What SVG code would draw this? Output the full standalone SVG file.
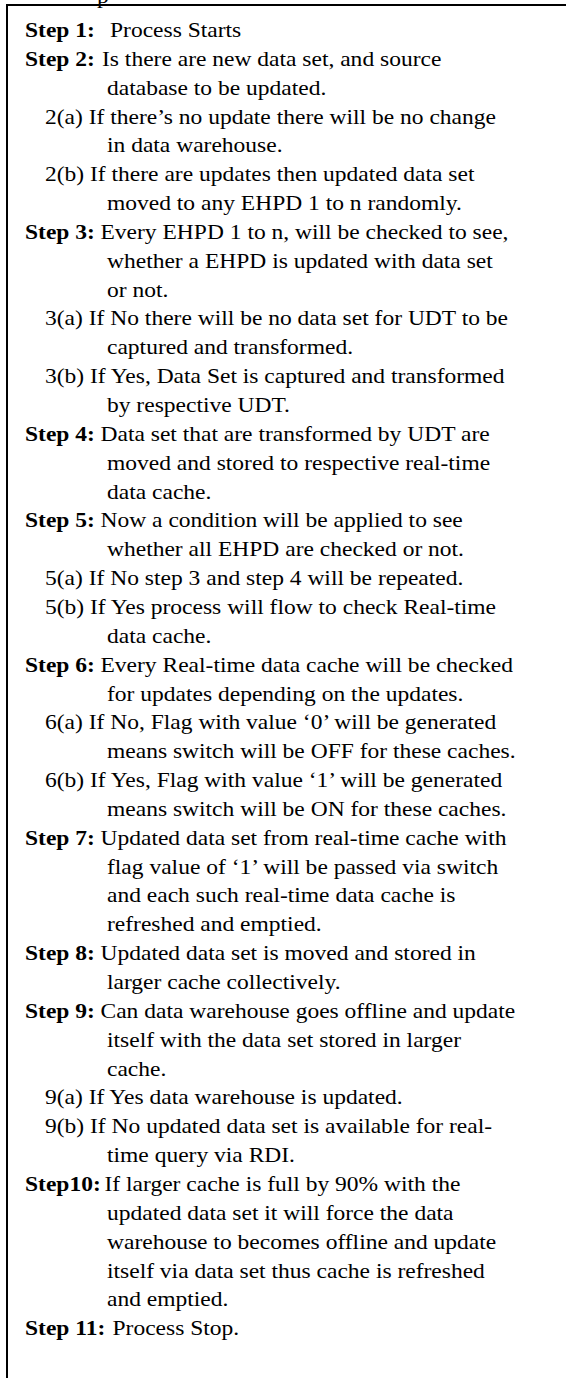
<svg xmlns="http://www.w3.org/2000/svg" width="566" height="1378" viewBox="0 0 566 1378">
<style>
text{font-family:"Liberation Serif","Times New Roman",serif;font-size:21px;fill:#000}
.b{font-weight:bold}
.frame{fill:none;stroke:#000;stroke-width:2}
</style>
<rect width="566" height="1378" fill="#fff"/>
<g id="frame">
<text x="97" y="3" transform="scale(1.12 1)" dx="-10.4">p</text>
<path class="frame" d="M566,5 H7 V1378"/>
</g>
<g id="steps" transform="scale(1.12 1)">
<text y="37"><tspan class="b" x="22.32">Step 1:</tspan><tspan x="98.21">Process Starts</tspan></text>
<text y="65.85"><tspan class="b" x="22.32">Step 2:</tspan><tspan x="91.07">Is there are new data set, and source</tspan></text>
<text x="95.54" y="94.7">database to be updated.</text>
<text x="40.18" y="123.55">2(a) If there’s no update there will be no change</text>
<text x="95.54" y="152.4">in data warehouse.</text>
<text x="40.18" y="181.25">2(b) If there are updates then updated data set</text>
<text x="95.54" y="210.1">moved to any EHPD 1 to n randomly.</text>
<text y="238.95"><tspan class="b" x="22.32">Step 3:</tspan><tspan x="89.73">Every EHPD 1 to n, will be checked to see,</tspan></text>
<text x="95.54" y="267.8">whether a EHPD is updated with data set</text>
<text x="95.54" y="296.65">or not.</text>
<text x="40.18" y="325.5">3(a) If No there will be no data set for UDT to be</text>
<text x="95.54" y="354.35">captured and transformed.</text>
<text x="40.18" y="383.2">3(b) If Yes, Data Set is captured and transformed</text>
<text x="95.54" y="412.05">by respective UDT.</text>
<text y="440.9"><tspan class="b" x="22.32">Step 4:</tspan><tspan x="89.73">Data set that are transformed by UDT are</tspan></text>
<text x="95.54" y="469.75">moved and stored to respective real-time</text>
<text x="95.54" y="498.6">data cache.</text>
<text y="527.45"><tspan class="b" x="22.32">Step 5:</tspan><tspan x="89.73">Now a condition will be applied to see</tspan></text>
<text x="95.54" y="556.3">whether all EHPD are checked or not.</text>
<text x="40.18" y="585.15">5(a) If No step 3 and step 4 will be repeated.</text>
<text x="40.18" y="614">5(b) If Yes process will flow to check Real-time</text>
<text x="95.54" y="642.85">data cache.</text>
<text y="671.7"><tspan class="b" x="22.32">Step 6:</tspan><tspan x="89.73">Every Real-time data cache will be checked</tspan></text>
<text x="95.54" y="700.55">for updates depending on the updates.</text>
<text x="40.18" y="729.4">6(a) If No, Flag with value ‘0’ will be generated</text>
<text x="95.54" y="758.25">means switch will be OFF for these caches.</text>
<text x="40.18" y="787.1">6(b) If Yes, Flag with value ‘1’ will be generated</text>
<text x="95.54" y="815.95">means switch will be ON for these caches.</text>
<text y="844.8"><tspan class="b" x="22.32">Step 7:</tspan><tspan x="89.73">Updated data set from real-time cache with</tspan></text>
<text x="95.54" y="873.65">flag value of ‘1’ will be passed via switch</text>
<text x="95.54" y="902.5">and each such real-time data cache is</text>
<text x="95.54" y="931.35">refreshed and emptied.</text>
<text y="960.2"><tspan class="b" x="22.32">Step 8:</tspan><tspan x="89.73">Updated data set is moved and stored in</tspan></text>
<text x="95.54" y="989.05">larger cache collectively.</text>
<text y="1017.9"><tspan class="b" x="22.32">Step 9:</tspan><tspan x="89.73">Can data warehouse goes offline and update</tspan></text>
<text x="95.54" y="1046.75">itself with the data set stored in larger</text>
<text x="95.54" y="1075.6">cache.</text>
<text x="40.18" y="1104.45">9(a) If Yes data warehouse is updated.</text>
<text x="40.18" y="1133.3">9(b) If No updated data set is available for real-</text>
<text x="95.54" y="1162.15">time query via RDI.</text>
<text y="1191"><tspan class="b" x="22.32">Step10:</tspan><tspan x="93.3">If larger cache is full by 90% with the</tspan></text>
<text x="95.54" y="1219.85">updated data set it will force the data</text>
<text x="95.54" y="1248.7">warehouse to becomes offline and update</text>
<text x="95.54" y="1277.55">itself via data set thus cache is refreshed</text>
<text x="95.54" y="1306.4">and emptied.</text>
<text y="1335.25"><tspan class="b" x="22.32">Step 11:</tspan><tspan x="100.45">Process Stop.</tspan></text>
</g>
</svg>
